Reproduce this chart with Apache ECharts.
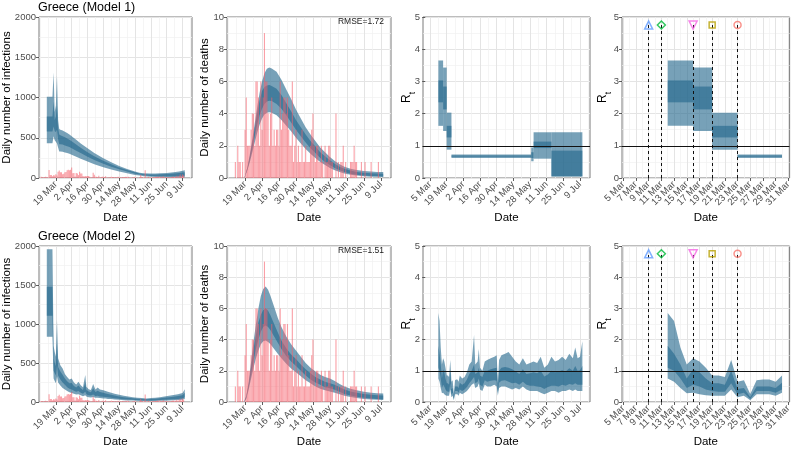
<!DOCTYPE html>
<html><head><meta charset="utf-8">
<script src="https://cdn.jsdelivr.net/npm/echarts@6.0.0/dist/echarts.min.js"></script>
<style>html,body{margin:0;padding:0;background:#fff}#chart{width:794px;height:449px}</style>
</head><body><div id="chart"></div>
<script>
// All x values are day numbers counted from 1 March 2020 (1 Mar = 0).
const longTickDays = [18, 32, 46, 60, 74, 88, 102, 116, 130];
const longTickLabels = ['19 Mar','2 Apr','16 Apr','30 Apr','14 May','28 May','11 Jun','25 Jun','9 Jul'];
const longMinorDays = [4, 11, 25, 39, 53, 67, 81, 95, 109, 123, 137];
const rtTickDays = [4, 18, 32, 46, 60, 74, 88, 102, 116, 130];
const rtTickLabels = ['5 Mar','19 Mar','2 Apr','16 Apr','30 Apr','14 May','28 May','11 Jun','25 Jun','9 Jul'];
const rtMinorDays = [11, 25, 39, 53, 67, 81, 95, 109, 123, 137];
const marchTickDays = [4, 6, 8, 10, 12, 14, 16, 18, 20, 22, 24, 26, 28, 30];
const marchTickLabels = ['5 Mar','7 Mar','9 Mar','11 Mar','13 Mar','15 Mar','17 Mar','19 Mar','21 Mar','23 Mar','25 Mar','27 Mar','29 Mar','31 Mar'];
const marchMinorDays = [5, 7, 9, 11, 13, 15, 17, 19, 21, 23, 25, 27, 29];

// observed daily confirmed cases, first value = day 4 (5 Mar)
const casesStartDay = 4;
const dailyCases = [2,14,13,7,11,16,10, 9,98,38,38,21,35,31, 46,31,78,94,71,71,48, 52,71,74,95,102,97,102,
  129,60,62,20,62,56,36, 79,55,56,25,20,25,22, 25,24,15,3,12,66,40, 17,15,10,27,4,11,15,
  15,11,21,4,7,10,10, 15,12,11,6,13,7,16, 10,9,5,12,10,11,16, 13,16,6,3,2,10,10,
  15,4,2,1,8,37,15, 13,5,97,4,7,15,3, 7,10,12,10,14,12,19, 11,23,9,14,22,7,10,
  12,7,11,6,13,17,18, 12,16,28,10,28,42,20, 45,30];
// observed daily deaths, first value = day 10 (11 Mar)
const deathsStartDay = 10;
const dailyDeaths = [1,0,2,1,1,0,1, 0,3,5,2,2,2,3, 4,4,2,6,6,5,2, 6,3,5,9,6,6,4, 2,4,5,2,3,2,3,
  3,2,6,3,4,5,5, 4,5,3,2,2,6,1, 2,3,1,2,1,1,3, 1,1,2,1,1,1,2, 3,4,2,1,2,2,1, 1,2,1,0,2,1,1,
  2,2,1,1,0,0,4, 0,1,0,1,1,2,0, 1,0,0,0,1,1,1, 2,1,1,0,0,0,1, 0,0,1,0,0,0,0, 1,0,0,0,0,0,1, 0,0];

// Model 1 estimated infections (95% and 50% intervals)
const m1InfDays = [10,15,16,17,18,19,20,21,22,24,26,28,30,32,36,40,46,52,60,67,74,81,88,92,96,102,106,110,116,122,127,132];
const m1InfLo95 = [433,433,520,470,450,430,380,330,330,325,318,310,300,290,265,240,205,172,135,105,80,58,38,30,22,14,11,9,8,8,8,9];
const m1InfHi95 = [1010,1010,1310,820,900,1270,720,610,600,590,575,560,540,520,475,430,370,310,245,195,150,112,80,66,58,55,56,58,62,70,80,95];
const m1InfLo50 = [577,577,640,580,570,600,480,420,420,415,405,395,385,370,340,310,265,225,178,140,108,80,54,43,34,26,24,23,22,23,25,27];
const m1InfHi50 = [763,763,950,720,760,900,620,540,530,520,505,490,475,455,415,375,320,270,215,170,130,98,70,57,48,44,44,46,50,55,62,72];

// Model 1 estimated deaths
const m1DeathDays = [17,18,20,22,24,26,28,30,32,34,36,38,40,44,48,52,56,60,64,68,72,76,80,84,88,92,96,100,105,110,116,122,127,132];
const m1DeathLo95 = [0,0.1,0.5,1.0,1.6,2.2,2.8,3.3,3.7,3.95,4.05,4.08,4.05,3.9,3.6,3.25,2.9,2.5,2.15,1.8,1.5,1.25,1.0,0.8,0.62,0.48,0.37,0.28,0.2,0.15,0.11,0.08,0.07,0.06];
const m1DeathHi95 = [0,0.15,0.7,1.5,2.4,3.4,4.4,5.3,6.0,6.5,6.78,6.87,6.8,6.6,6.1,5.5,4.9,4.25,3.7,3.15,2.7,2.3,1.9,1.6,1.3,1.05,0.85,0.7,0.58,0.5,0.44,0.4,0.38,0.38];
const m1DeathLo50 = [0,0.11,0.55,1.15,1.85,2.6,3.3,3.9,4.3,4.6,4.75,4.8,4.78,4.6,4.3,3.9,3.45,3.0,2.6,2.2,1.85,1.55,1.25,1.0,0.8,0.62,0.48,0.37,0.27,0.2,0.16,0.12,0.11,0.1];
const m1DeathHi50 = [0,0.13,0.65,1.35,2.2,3.1,4.0,4.8,5.4,5.65,5.75,5.77,5.72,5.55,5.15,4.65,4.15,3.6,3.15,2.7,2.3,1.95,1.6,1.35,1.1,0.88,0.7,0.57,0.46,0.38,0.33,0.3,0.28,0.27];

// Model 1 piecewise-constant R_t
const m1RtStart = [11, 15, 18, 22, 89, 91, 106];
const m1RtEnd   = [15, 18, 22, 89, 91, 106, 132];
const m1RtLo95 = [1.62, 1.46, 0.88, 0.62, 0.52, 0.60, 0.05];
const m1RtHi95 = [3.65, 3.43, 2.03, 0.73, 0.95, 1.42, 1.42];
const m1RtLo50 = [2.35, 2.13, 1.26, 0.66, 0.62, 0.93, 0.05];
const m1RtHi50 = [3.03, 2.84, 1.62, 0.70, 0.80, 1.13, 0.85];

// Model 2 estimated infections
const m2InfDays = [10,15,16,17,18,19,20,22,24,26,28,30,32,34,36,38,40,42,44,45,47,49,51,53,55,57,60,62,64,67,70,74,78,82,86,90,94,98,102,106,110,114,118,122,126,130,132];
const m2InfLo95 = [836,836,300,270,240,330,250,210,180,160,140,125,115,105,95,100,85,75,85,70,62,58,65,55,55,50,46,44,40,37,32,28,23,20,18,15,14,12,12,13,15,17,20,22,25,30,40];
const m2InfHi95 = [1958,1958,720,640,580,1050,560,470,430,360,320,290,300,250,225,260,215,190,345,195,165,155,230,160,185,160,150,140,130,118,105,92,80,70,62,55,50,46,50,56,62,70,80,90,100,115,165];
const m2InfLo50 = [1105,1105,400,370,340,470,340,290,250,220,190,170,160,145,130,140,120,105,130,100,88,82,95,78,80,72,68,64,60,55,48,42,36,31,28,24,22,20,20,22,25,28,32,36,40,46,60];
const m2InfHi50 = [1478,1478,560,500,460,750,450,390,350,300,265,240,245,205,185,210,175,155,250,155,135,125,175,128,145,128,118,110,102,92,82,72,62,54,48,42,38,35,38,42,47,53,60,68,76,88,120];

// Model 2 estimated deaths
const m2DeathDays = [17,19,21,23,25,27,29,31,33,35,37,39,42,45,48,52,56,60,64,68,72,76,80,84,88,92,96,100,105,110,116,122,127,132];
const m2DeathLo95 = [0,0.2,0.8,1.5,2.2,2.8,3.3,3.7,3.9,3.95,3.85,3.7,3.4,3.1,2.8,2.45,2.15,1.9,1.65,1.4,1.2,1.0,0.85,0.75,0.68,0.6,0.5,0.4,0.32,0.25,0.2,0.16,0.14,0.13];
const m2DeathHi95 = [0,0.4,1.3,2.6,3.9,5.0,6.0,6.8,7.25,7.4,7.2,6.8,6.1,5.4,4.8,4.2,3.7,3.3,2.9,2.5,2.2,1.95,1.75,1.6,1.5,1.35,1.15,1.0,0.85,0.75,0.65,0.6,0.56,0.55];
const m2DeathLo50 = [0,0.25,0.95,1.8,2.65,3.4,4.0,4.5,4.8,4.9,4.8,4.6,4.2,3.8,3.4,2.95,2.6,2.3,2.0,1.7,1.45,1.25,1.1,0.95,0.88,0.78,0.65,0.52,0.42,0.34,0.27,0.22,0.2,0.18];
const m2DeathHi50 = [0,0.33,1.15,2.25,3.4,4.3,5.1,5.6,5.9,6.0,5.85,5.55,5.0,4.45,3.95,3.45,3.05,2.75,2.4,2.1,1.85,1.6,1.45,1.3,1.2,1.1,0.95,0.8,0.68,0.6,0.52,0.47,0.44,0.42];

// Model 2 time-varying R_t
const m2RtDays = [11,12,13,14,15,16,17,18,19,20,21,22,23,24,25,26,27,28,29,31,33,35,37,39,41,42,44,45,46,48,50,52,55,58,60,61,62,64,67,70,73,76,79,82,85,88,91,94,97,100,103,106,109,112,115,118,121,124,126,128,130,132];
const m2RtLo95 = [0.75,0.65,0.45,0.28,0.30,0.25,0.22,0.20,0.20,0.20,0.40,0.15,0.20,0.06,0.25,0.25,0.25,0.20,0.30,0.25,0.30,0.35,0.45,0.55,0.60,0.45,0.50,0.60,0.40,0.35,0.55,0.50,0.50,0.55,0.50,0.20,0.45,0.50,0.50,0.45,0.40,0.45,0.40,0.50,0.40,0.35,0.35,0.35,0.30,0.25,0.30,0.35,0.35,0.30,0.35,0.35,0.40,0.35,0.40,0.35,0.35,0.35];
const m2RtHi95 = [2.85,2.60,1.75,1.20,1.40,1.30,1.10,0.85,0.85,0.80,1.35,0.65,0.70,0.26,0.70,0.72,0.72,0.65,0.85,0.75,0.80,0.95,1.20,1.30,2.15,1.20,1.30,1.70,1.10,1.00,1.30,1.35,1.40,1.45,1.50,0.60,1.35,1.50,1.55,1.60,1.45,1.30,1.20,1.40,1.20,1.25,1.30,1.25,1.45,1.10,1.20,1.45,1.30,1.35,1.45,1.35,1.55,1.40,1.75,1.40,1.45,1.95];
const m2RtLo50 = [1.10,1.00,0.75,0.45,0.55,0.50,0.40,0.35,0.33,0.33,0.60,0.25,0.30,0.10,0.35,0.35,0.35,0.30,0.40,0.35,0.40,0.48,0.60,0.70,0.80,0.60,0.65,0.75,0.55,0.50,0.70,0.65,0.68,0.70,0.68,0.30,0.62,0.68,0.70,0.65,0.60,0.62,0.55,0.65,0.55,0.52,0.52,0.50,0.48,0.42,0.48,0.52,0.52,0.50,0.55,0.52,0.58,0.55,0.60,0.55,0.55,0.55];
const m2RtHi50 = [1.80,1.55,1.20,0.75,1.05,0.95,0.75,0.60,0.60,0.55,1.00,0.42,0.45,0.15,0.50,0.50,0.50,0.45,0.62,0.55,0.60,0.72,0.90,1.00,1.20,0.90,0.95,1.10,0.85,0.80,1.00,1.00,1.05,1.08,1.10,0.45,1.00,1.10,1.12,1.10,1.05,0.98,0.90,1.05,0.90,0.92,0.95,0.92,1.00,0.82,0.88,1.00,0.95,0.98,1.02,0.98,1.08,1.00,1.15,1.00,1.02,1.15];

// interventions (day numbers) and the R_t level where their markers sit
const interventionDays = [8, 10, 15, 18, 22];
const interventionMarkerRt = 4.75;
const rmseValues = ['RMSE=1.72', 'RMSE=1.51'];
const panelTitles = ['Greece (Model 1)', 'Greece (Model 2)'];

// ---------------- styling / layout ----------------
const FONT = 'Liberation Sans, Arial, Helvetica, sans-serif';
const BAND = 'rgba(36,104,140,0.62)';
const BAR = 'rgba(247,96,108,0.6)';
const markerSymbols = ['triangle', 'path://M0,-1L1,0L0,1L-1,0Z', 'path://M-1,-0.9L1,-0.9L0,0.9Z', 'rect', 'circle'];
const markerColors = ['#619CFF', '#00BA38', '#F564E3', '#B79F00', '#F8766D'];
const markerSizes = [8, 8, 8, 6, 7];
const cols = [{l:38,w:154},{l:227,w:164},{l:423,w:167},{l:622,w:168}];
const rows = [{t:17,h:161},{t:246,h:160}];

const grids = [], xAxes = [], yAxes = [], series = [], xIdx = [];
function lab(days, labels){ return v => { const i = days.indexOf(Math.round(v)); return i >= 0 ? labels[i] : ''; }; }
const xLabelStyle = {rotate:45, fontSize:9.5, color:'#4d4d4d', margin:5, fontFamily: FONT,
  showMinLabel: true, showMaxLabel: true, hideOverlap: false};

function addPanel(r, c, xr, ticks, labels, minors, ymax, yint, yname, ynameGap, rich, splitLabels) {
  const gi = grids.length;
  grids.push({left: cols[c].l, top: rows[r].t, width: cols[c].w, height: rows[r].h,
    show: true, borderColor: '#7a7a7a', borderWidth: 1, backgroundColor: 'transparent', containLabel: false});
  const evenTicks = splitLabels ? ticks.filter((t,i) => i % 2 === 0) : ticks;
  const oddTicks = ticks.filter((t,i) => i % 2 === 1);
  xIdx.push(xAxes.length);
  xAxes.push({type:'value', gridIndex: gi, min: xr[0], max: xr[1], position:'bottom',
    axisLine:{show:false},
    axisTick:{show:true, length:3, lineStyle:{color:'#333', width:0.8}, customValues: ticks},
    axisLabel: Object.assign({customValues: evenTicks, formatter: lab(ticks, labels)}, xLabelStyle),
    splitLine:{show:true, lineStyle:{color:'#e4e4e4', width:1}},
    name:'Date', nameLocation:'middle', nameGap:34, nameMoveOverlap:false,
    nameTextStyle:{fontSize:11.5, color:'#000', fontFamily: FONT}});
  xAxes.push({type:'value', gridIndex: gi, min: xr[0], max: xr[1], position:'top',
    axisLine:{show:false}, axisTick:{show:false, customValues: minors}, axisLabel:{show:false},
    splitLine:{show:true, lineStyle:{color:'#f1f1f1', width:0.7}}});
  if (splitLabels) {
    xAxes.push({type:'value', gridIndex: gi, min: xr[0], max: xr[1], position:'bottom', offset: 0,
      axisLine:{show:false}, axisTick:{show:false, customValues: oddTicks},
      axisLabel: Object.assign({customValues: oddTicks, formatter: lab(ticks, labels)}, xLabelStyle),
      splitLine:{show:false}});
  }
  const ya = {type:'value', gridIndex: gi, min:0, max: ymax, interval: yint,
    axisLine:{show:false},
    axisTick:{show:true, length:3, lineStyle:{color:'#333', width:0.8}},
    axisLabel:{fontSize:9.5, color:'#4d4d4d', margin:3, fontFamily: FONT, formatter: v => String(v)},
    splitLine:{show:true, lineStyle:{color:'#e4e4e4', width:1}},
    minorTick:{show:false, splitNumber:2},
    minorSplitLine:{show:true, lineStyle:{color:'#f1f1f1', width:0.7}},
    name: yname, nameLocation:'middle', nameRotate:90, nameGap: ynameGap, nameMoveOverlap:false,
    nameTextStyle:{fontSize:11.5, color:'#000', fontFamily: FONT}};
  if (rich) ya.nameTextStyle.rich = {
    a:{fontSize:12, lineHeight:16, verticalAlign:'top', fontFamily: FONT, color:'#000'},
    b:{fontSize:8.5, lineHeight:16, verticalAlign:'bottom', fontFamily: FONT, color:'#000'}};
  yAxes.push(ya);
  return gi;
}

function bars(gi, start, vals) {
  series.push({type:'bar', xAxisIndex: xIdx[gi], yAxisIndex: gi, barWidth: 1.1, silent: true,
    itemStyle:{color: BAR}, data: vals.map((v,i) => [start + i, v])});
}
function band(gi, days, lo95, hi95, lo50, hi50, extra) {
  const s = {type:'custom', xAxisIndex: xIdx[gi], yAxisIndex: gi, clip: true, silent: true,
    data: days.map((d,i) => [d, lo95[i], hi95[i], lo50[i], hi50[i]]),
    encode:{x:0, y:[1,2]},
    renderItem: (params, api) => {
      if (params.dataIndex !== 0) return null;
      const poly = (lo, hi) => days.map((d,i) => api.coord([d, hi[i]]))
        .concat(days.map((d,i) => api.coord([d, lo[i]])).reverse());
      return {type:'group', children:[
        {type:'polygon', shape:{points: poly(lo95, hi95)}, style:{fill: BAND}},
        {type:'polygon', shape:{points: poly(lo50, hi50)}, style:{fill: BAND}}]};
    }};
  Object.assign(s, extra || {});
  series.push(s);
}
function steps(gi, clipEnd, extra) {
  const s = {type:'custom', xAxisIndex: xIdx[gi], yAxisIndex: gi, clip: true, silent: true,
    data: m1RtStart.map((d,i) => [d, Math.min(m1RtEnd[i], clipEnd), m1RtLo95[i], m1RtHi95[i], m1RtLo50[i], m1RtHi50[i]])
      .filter(v => v[0] < clipEnd),
    encode:{x:[0,1], y:[2,3]},
    renderItem: (params, api) => {
      const x0 = api.value(0), x1 = api.value(1);
      const rect = (lo, hi) => { const a = api.coord([x0, hi]), b = api.coord([x1, lo]);
        return {type:'rect', shape:{x:a[0], y:a[1], width:b[0]-a[0], height:b[1]-a[1]}, style:{fill: BAND}}; };
      return {type:'group', children:[rect(api.value(2), api.value(3)), rect(api.value(4), api.value(5))]};
    }};
  Object.assign(s, extra || {});
  series.push(s);
}
const hline = {markLine:{silent:true, animation:false, symbol:['none','none'], label:{show:false},
  lineStyle:{color:'#111', width:1, type:'solid'}, data:[{yAxis:1}]}};
function interventions(gi) {
  series.push({type:'scatter', xAxisIndex: xIdx[gi], yAxisIndex: gi, silent:true, z:6,
    data: interventionDays.map((d,i) => ({value:[d, interventionMarkerRt], symbol: markerSymbols[i], symbolSize: markerSizes[i],
      itemStyle:{color:'rgba(0,0,0,0)', borderColor: markerColors[i], borderWidth:1.5}})),
    markLine:{silent:true, animation:false, symbol:['none','none'], label:{show:false}, z:4,
      lineStyle:{color:'#111', width:1, type:[3,3]},
      data: interventionDays.map(d => [{coord:[d,0]},{coord:[d,interventionMarkerRt]}])}});
}

const xLong = [3.1, 138.4], xRt = [-1.9, 138.4], xMarch = [3.8, 30.2];
const rt = '{a|R}{b|t}';
// Row 1: Model 1
let g;
g = addPanel(0,0,xLong,longTickDays,longTickLabels,longMinorDays,2000,500,'Daily number of infections',26);
bars(g, casesStartDay, dailyCases); band(g, m1InfDays, m1InfLo95, m1InfHi95, m1InfLo50, m1InfHi50);
g = addPanel(0,1,xLong,longTickDays,longTickLabels,longMinorDays,10,2,'Daily number of deaths',16);
bars(g, deathsStartDay, dailyDeaths); band(g, m1DeathDays, m1DeathLo95, m1DeathHi95, m1DeathLo50, m1DeathHi50);
g = addPanel(0,2,xRt,rtTickDays,rtTickLabels,rtMinorDays,5,1,rt,6,true);
steps(g, 1000, hline);
g = addPanel(0,3,xMarch,marchTickDays,marchTickLabels,marchMinorDays,5,1,rt,9,true,true);
steps(g, 29, hline); interventions(g);
// Row 2: Model 2
g = addPanel(1,0,xLong,longTickDays,longTickLabels,longMinorDays,2000,500,'Daily number of infections',26);
bars(g, casesStartDay, dailyCases); band(g, m2InfDays, m2InfLo95, m2InfHi95, m2InfLo50, m2InfHi50);
g = addPanel(1,1,xLong,longTickDays,longTickLabels,longMinorDays,10,2,'Daily number of deaths',16);
bars(g, deathsStartDay, dailyDeaths); band(g, m2DeathDays, m2DeathLo95, m2DeathHi95, m2DeathLo50, m2DeathHi50);
g = addPanel(1,2,xRt,rtTickDays,rtTickLabels,rtMinorDays,5,1,rt,6,true);
band(g, m2RtDays, m2RtLo95, m2RtHi95, m2RtLo50, m2RtHi50, hline);
g = addPanel(1,3,xMarch,marchTickDays,marchTickLabels,marchMinorDays,5,1,rt,9,true,true);
const mk = m2RtDays.map((d,i) => i).filter(i => m2RtDays[i] <= 29);
band(g, mk.map(i => m2RtDays[i]), mk.map(i => m2RtLo95[i]), mk.map(i => m2RtHi95[i]), mk.map(i => m2RtLo50[i]), mk.map(i => m2RtHi50[i]), hline);
interventions(g);

const titles = [
  {text: panelTitles[0], left: 38, top: 1, padding: 0, textStyle:{fontSize:12.5, fontWeight:'normal', color:'#000', fontFamily: FONT}},
  {text: panelTitles[1], left: 38, top: 230, padding: 0, textStyle:{fontSize:12.5, fontWeight:'normal', color:'#000', fontFamily: FONT}},
  {text: rmseValues[0], right: 410, top: 17, padding: 0, textStyle:{fontSize:8.5, fontWeight:'normal', color:'#1a1a1a', fontFamily: FONT}},
  {text: rmseValues[1], right: 410, top: 246, padding: 0, textStyle:{fontSize:8.5, fontWeight:'normal', color:'#1a1a1a', fontFamily: FONT}}
];

const chart = echarts.init(document.getElementById('chart'), null, {renderer:'canvas'});
chart.setOption({animation:false, backgroundColor:'#fff', textStyle:{fontFamily: FONT},
  title: titles, grid: grids, xAxis: xAxes, yAxis: yAxes, series: series});
</script></body></html>
